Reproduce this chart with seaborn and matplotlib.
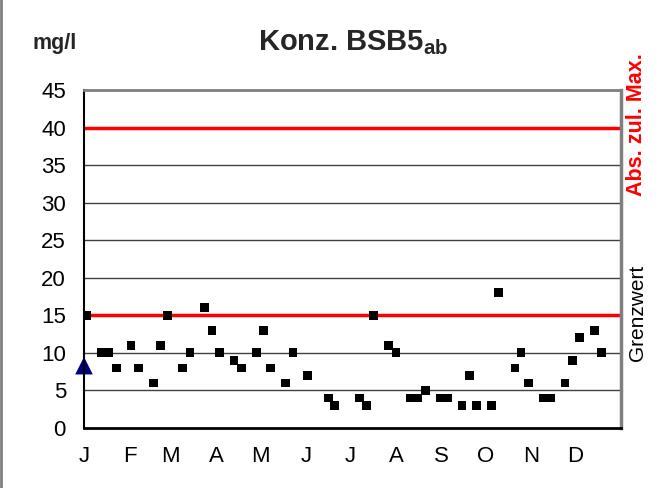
import numpy as np
import pandas as pd
import matplotlib
matplotlib.use("Agg")
import matplotlib.pyplot as plt
import seaborn as sns

# sample day (days since 1 Jan) and BSB5 concentration in mg/l
days = [2, 12, 17, 22, 32, 37, 47, 52, 57, 67, 72, 82, 87, 92, 102, 107, 117,
        122, 127, 137, 142, 152, 166, 170, 187, 192, 197, 207, 212, 222, 227,
        232, 242, 247, 257, 262, 267, 277, 282, 293, 297, 302, 312, 317, 327,
        332, 337, 347, 352]
konz = [15, 10, 10, 8, 11, 8, 6, 11, 15, 8, 10, 16, 13, 10, 9, 8, 10,
        13, 8, 6, 10, 7, 4, 3, 4, 3, 15, 11, 10, 4, 4,
        5, 4, 4, 3, 7, 3, 3, 18, 8, 10, 6, 4, 4, 6,
        9, 12, 13, 10]

start_day = [0]
start_val = [8.3]

grenzwert = 15
abs_max = 40

month_starts = [0, 31, 59, 90, 120, 151, 181, 212, 243, 273, 304, 334, 365]
month_labels = ["J", "F", "M", "A", "M", "J", "J", "A", "S", "O", "N", "D", ""]

df = pd.DataFrame({"tag": days, "konz": konz})
df_start = pd.DataFrame({"tag": start_day, "konz": start_val})

sns.set_theme(style="white")
plt.rcParams["font.family"] = ["Liberation Sans", "DejaVu Sans"]
plt.rcParams["mathtext.fontset"] = "custom"
plt.rcParams["mathtext.bf"] = "Liberation Sans:bold"
plt.rcParams["mathtext.rm"] = "Liberation Sans"

fig = plt.figure(figsize=(6.67, 4.88), dpi=100)
ax = fig.add_axes([84 / 667, 60 / 488, 537 / 667, 338 / 488])

for y in range(5, 46, 5):
    ax.axhline(y, color="#404040", lw=1.0, zorder=1)
ax.axhline(grenzwert, color="#ff0000", lw=2.5, zorder=2)
ax.axhline(abs_max, color="#ff0000", lw=2.5, zorder=2)

sns.scatterplot(data=df, x="tag", y="konz", marker="s", s=40, color="black",
                edgecolor="none", ax=ax, zorder=4, clip_on=False)
sns.scatterplot(data=df_start, x="tag", y="konz", marker="^", s=160,
                color="#000080", edgecolor="none", ax=ax, zorder=5, clip_on=False)

ax.set_xlim(0, 365)
ax.set_ylim(0, 45)
ax.set_xticks(month_starts)
ax.set_xticklabels(month_labels)
ax.set_yticks(range(0, 46, 5))
ax.set_xlabel("")
ax.set_ylabel("")
ax.tick_params(axis="both", which="both", direction="out", length=6,
               width=1.5, color="#808080", labelsize=16, labelcolor="black")
ax.tick_params(axis="x", pad=7)
ax.tick_params(axis="y", pad=7)

ax.spines["left"].set_color("black")
ax.spines["left"].set_linewidth(1.5)
ax.spines["bottom"].set_color("black")
ax.spines["bottom"].set_linewidth(2)
ax.spines["top"].set_color("#808080")
ax.spines["top"].set_linewidth(2)
ax.spines["right"].set_color("#808080")
ax.spines["right"].set_linewidth(2.5)
for s in ax.spines.values():
    s.set_zorder(6)

fig.text(353 / 667, 1 - 43 / 488, r"Konz. BSB5$_{\mathbf{ab}}$",
         ha="center", va="center", fontsize=21, fontweight="bold")
fig.text(33 / 667, 1 - 44 / 488, "mg/l", ha="left", va="center",
         fontsize=15.5, fontweight="bold")
fig.text(636 / 667, 1 - 125 / 488, "Abs. zul. Max.", rotation=90,
         ha="center", va="center", fontsize=15.5, fontweight="bold",
         color="#ff0000")
fig.text(638 / 667, 1 - 313 / 488, "Grenzwert", rotation=90,
         ha="center", va="center", fontsize=15, color="black")

# outer frame line on the left edge
fig.add_artist(plt.Line2D([0.002, 0.002], [0, 1], color="#808080", lw=2))

fig.savefig("out.png", dpi=100)
